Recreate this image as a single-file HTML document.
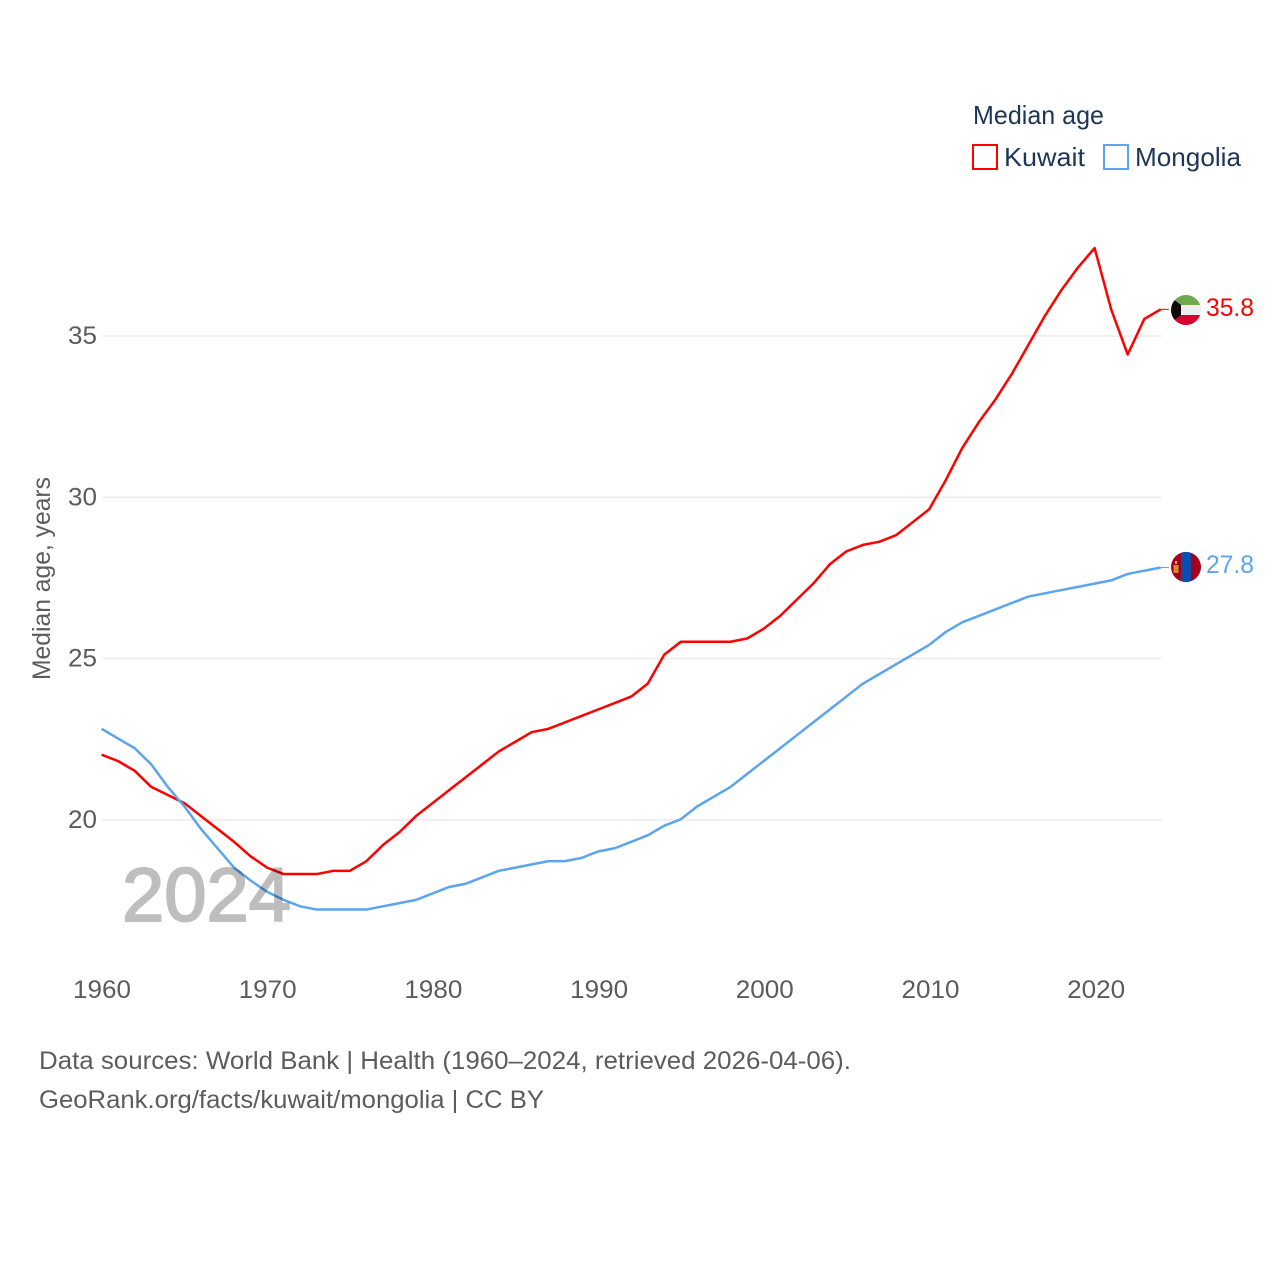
<!DOCTYPE html>
<html lang="en">
<head>
<meta charset="utf-8">
<title>Median age: Kuwait and Mongolia</title>
<style>
html,body{margin:0;padding:0;background:#fff;width:1280px;height:1280px;overflow:hidden}
svg{display:block}
text{font-family:"Liberation Sans",sans-serif}
</style>
</head>
<body>
<svg id="chart" xmlns="http://www.w3.org/2000/svg" width="1280" height="1280" viewBox="0 0 1280 1280">
  <defs>
    <clipPath id="flag-clip-k"><circle cx="1186" cy="310" r="15"/></clipPath>
    <clipPath id="flag-clip-m"><circle cx="1186" cy="567" r="15"/></clipPath>
  </defs>
  <g id="grid"></g>
  <g id="yticks"></g>
  <g id="xticks"></g>
  <text transform="translate(50,680) rotate(-90)" font-size="25" fill="#5c5c5c" textLength="203" lengthAdjust="spacingAndGlyphs">Median age, years</text>
  <g id="series"></g>
  <text x="122" y="921" font-size="76" fill="#000" stroke="#000" stroke-width="2" opacity="0.25" textLength="169" lengthAdjust="spacingAndGlyphs">2024</text>

  <g>
    <text x="973" y="124" font-size="26" fill="#1d3557" textLength="131" lengthAdjust="spacingAndGlyphs">Median age</text>
    <g>
      <rect x="973" y="145" width="24" height="24" fill="none" stroke="#ff0000" stroke-width="2"/>
      <text x="1004" y="166" font-size="26" fill="#1d3557" textLength="81" lengthAdjust="spacingAndGlyphs">Kuwait</text>
    </g>
    <g>
      <rect x="1104" y="145" width="24" height="24" fill="none" stroke="#5ba4ee" stroke-width="2"/>
      <text x="1135" y="166" font-size="26" fill="#1d3557" textLength="106" lengthAdjust="spacingAndGlyphs">Mongolia</text>
    </g>
  </g>

  <g clip-path="url(#flag-clip-k)">
    <rect x="1171" y="295" width="30" height="10" fill="#6fa84f"/>
    <rect x="1171" y="305" width="30" height="10" fill="#eeeeee"/>
    <rect x="1171" y="315" width="30" height="10" fill="#d8002e"/>
    <polygon points="1171,295 1173,299 1181,305 1181,315 1173,321 1171,325" fill="#0a0a0a"/>
  </g>
  <g clip-path="url(#flag-clip-m)">
    <rect x="1171" y="552" width="30" height="30" fill="#a4001d"/>
    <rect x="1181" y="552" width="10" height="30" fill="#0a4fb0"/>
    <rect x="1175" y="561" width="2" height="3" fill="#e8b93a"/>
    <rect x="1173.5" y="565" width="5" height="8" fill="#d9a63a" opacity="0.85"/>
  </g>

  <text x="1206" y="316" font-size="25" fill="#ff0000" textLength="48" lengthAdjust="spacingAndGlyphs">35.8</text>
  <text x="1206" y="573" font-size="25" fill="#5ba4ee" textLength="48" lengthAdjust="spacingAndGlyphs">27.8</text>

  <text x="39" y="1069" font-size="25" fill="#5c5c5c" textLength="812" lengthAdjust="spacingAndGlyphs">Data sources: World Bank | Health (1960–2024, retrieved 2026-04-06).</text>
  <text x="39" y="1108" font-size="25" fill="#5c5c5c" textLength="505" lengthAdjust="spacingAndGlyphs">GeoRank.org/facts/kuwait/mongolia | CC BY</text>
</svg>
<script>
const years = [1960,1961,1962,1963,1964,1965,1966,1967,1968,1969,1970,1971,1972,1973,1974,1975,1976,1977,1978,1979,1980,1981,1982,1983,1984,1985,1986,1987,1988,1989,1990,1991,1992,1993,1994,1995,1996,1997,1998,1999,2000,2001,2002,2003,2004,2005,2006,2007,2008,2009,2010,2011,2012,2013,2014,2015,2016,2017,2018,2019,2020,2021,2022,2023,2024];
const kuwaitValues = [22.0,21.8,21.5,21.0,20.75,20.5,20.1,19.7,19.3,18.85,18.5,18.3,18.3,18.3,18.4,18.4,18.7,19.2,19.6,20.1,20.5,20.9,21.3,21.7,22.1,22.4,22.7,22.8,23.0,23.2,23.4,23.6,23.8,24.2,25.1,25.5,25.5,25.5,25.5,25.6,25.9,26.3,26.8,27.3,27.9,28.3,28.5,28.6,28.8,29.2,29.6,30.5,31.5,32.3,33.0,33.8,34.7,35.6,36.4,37.1,37.7,35.8,34.4,35.5,35.8];
const mongoliaValues = [22.8,22.5,22.2,21.7,21.0,20.4,19.7,19.1,18.5,18.1,17.75,17.5,17.3,17.2,17.2,17.2,17.2,17.3,17.4,17.5,17.7,17.9,18.0,18.2,18.4,18.5,18.6,18.7,18.7,18.8,19.0,19.1,19.3,19.5,19.8,20.0,20.4,20.7,21.0,21.4,21.8,22.2,22.6,23.0,23.4,23.8,24.2,24.5,24.8,25.1,25.4,25.8,26.1,26.3,26.5,26.7,26.9,27.0,27.1,27.2,27.3,27.4,27.6,27.7,27.8];
const yTickValues = [20,25,30,35];
const xTickValues = [1960,1970,1980,1990,2000,2010,2020];

const NS = 'http://www.w3.org/2000/svg';
function xScale(year){ return 102 + (year - 1960) * 16.57; }
function yScale(value){ return 820 - (value - 20) * 32.27; }
function lineX(year){ return 101.6 + (year - 1960) * 16.55; }
function lineY(value){ return yScale(value) - 0.8; }
function make(tag, attrs, parent, content){
  const el = document.createElementNS(NS, tag);
  for (const k in attrs) el.setAttribute(k, attrs[k]);
  if (content !== undefined) el.textContent = content;
  parent.appendChild(el);
  return el;
}
const gridGroup = document.getElementById('grid');
const yGroup = document.getElementById('yticks');
const xGroup = document.getElementById('xticks');
const seriesGroup = document.getElementById('series');

yTickValues.forEach(function(v){
  const line = make('line', {x1:102, x2:1162, y1:yScale(v), y2:yScale(v), stroke:'#ebebeb', 'stroke-width':1.5}, gridGroup);
  
  
  const label = make('text', {x:97, y:yScale(v) + 8, 'text-anchor':'end', 'font-size':25, fill:'#5c5c5c', textLength:29, lengthAdjust:'spacingAndGlyphs'}, yGroup, String(v));
  
  
});
xTickValues.forEach(function(v){
  const label = make('text', {x:xScale(v), y:998, 'text-anchor':'middle', 'font-size':25, fill:'#5c5c5c', textLength:58, lengthAdjust:'spacingAndGlyphs'}, xGroup, String(v));
  
  
});
function drawSeries(values, color, name){
  const pts = values.map(function(v, i){ return lineX(years[i]).toFixed(2) + ',' + lineY(v).toFixed(2); }).join(' ');
  const line = make('polyline', {points:pts, fill:'none', stroke:color, 'stroke-width':2.5, 'stroke-linejoin':'round'}, seriesGroup);
  
  
  const last = values[values.length - 1];
  const lastX = lineX(years[years.length - 1]);
  const connector = make('line', {x1:lastX, x2:lastX + 8, y1:lineY(last), y2:lineY(last), stroke:color, 'stroke-width':1}, seriesGroup);
  
  
}
drawSeries(kuwaitValues, '#ff0000', 'kuwait');
drawSeries(mongoliaValues, '#5ba4ee', 'mongolia');
</script>
</body>
</html>
